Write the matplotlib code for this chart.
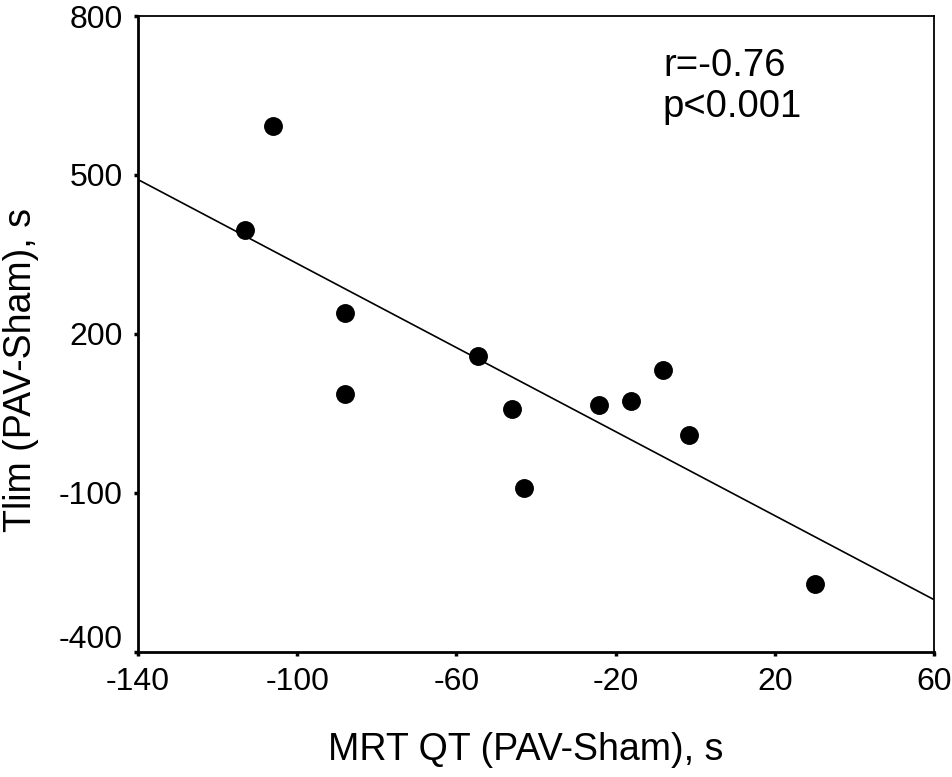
import numpy as np
import matplotlib
matplotlib.use("Agg")
import matplotlib.pyplot as plt
from matplotlib.transforms import ScaledTranslation

plt.rcParams['font.family'] = ['Liberation Sans', 'DejaVu Sans']
plt.rcParams['axes.unicode_minus'] = False

# Data (MRT QT difference vs Tlim difference)
mrt_qt = [-106.2, -113.2, -88.0, -88.0, -54.7, -46.1, -42.9, -24.1, -16.1, -8.0, -1.6, 30.1]
tlim = [593, 397, 239, 87, 159, 58, -90, 66, 74, 133, 9, -272]

x_ticks = [-140, -100, -60, -20, 20, 60]
y_ticks = [-400, -100, 200, 500, 800]
annotation = "r=-0.76\np<0.001"

fig = plt.figure(figsize=(9.53, 7.77), dpi=100)
ax = fig.add_axes([0.1448, 0.1609, 0.9801 - 0.1448, 0.9794 - 0.1609])

ax.scatter(mrt_qt, tlim, s=185, color='black', zorder=3, linewidths=0)

coef = np.polyfit(mrt_qt, tlim, 1)
xl = np.array([x_ticks[0], x_ticks[-1]])
ax.plot(xl, np.polyval(coef, xl), color='black', lw=1.2, zorder=2)

ax.set_xlim(x_ticks[0], x_ticks[-1])
ax.set_ylim(y_ticks[0], y_ticks[-1])
ax.set_xticks(x_ticks)
ax.set_yticks(y_ticks)
ax.tick_params(axis='both', direction='out', length=3, width=2.5, labelsize=23, pad=8, color='black')
for s in ['left', 'bottom']:
    ax.spines[s].set_linewidth(2.0)
for s in ['top', 'right']:
    ax.spines[s].set_linewidth(1.3)

# shift the bottom y label up a bit as in the reference
lab = ax.get_yticklabels()[0]
lab.set_transform(lab.get_transform() + ScaledTranslation(0, 0.15, fig.dpi_scale_trans))

ax.set_xlabel("MRT QT (PAV-Sham), s", fontsize=27)
ax.set_ylabel("Tlim (PAV-Sham), s", fontsize=27)
ax.xaxis.set_label_coords((526 - 138) / (934 - 138), -(750 - 652) / (652 - 16), transform=ax.transAxes)
ax.yaxis.set_label_coords(-(138 - 21) / (934 - 138), 1 - (370 - 16) / (652 - 16), transform=ax.transAxes)
ax.xaxis.label.set_va('center')
ax.yaxis.label.set_va('center')

ax.text(-8.1, 667, annotation, fontsize=27.5, ha='left', va='center', linespacing=1.2)

fig.savefig("out.png", dpi=100)
